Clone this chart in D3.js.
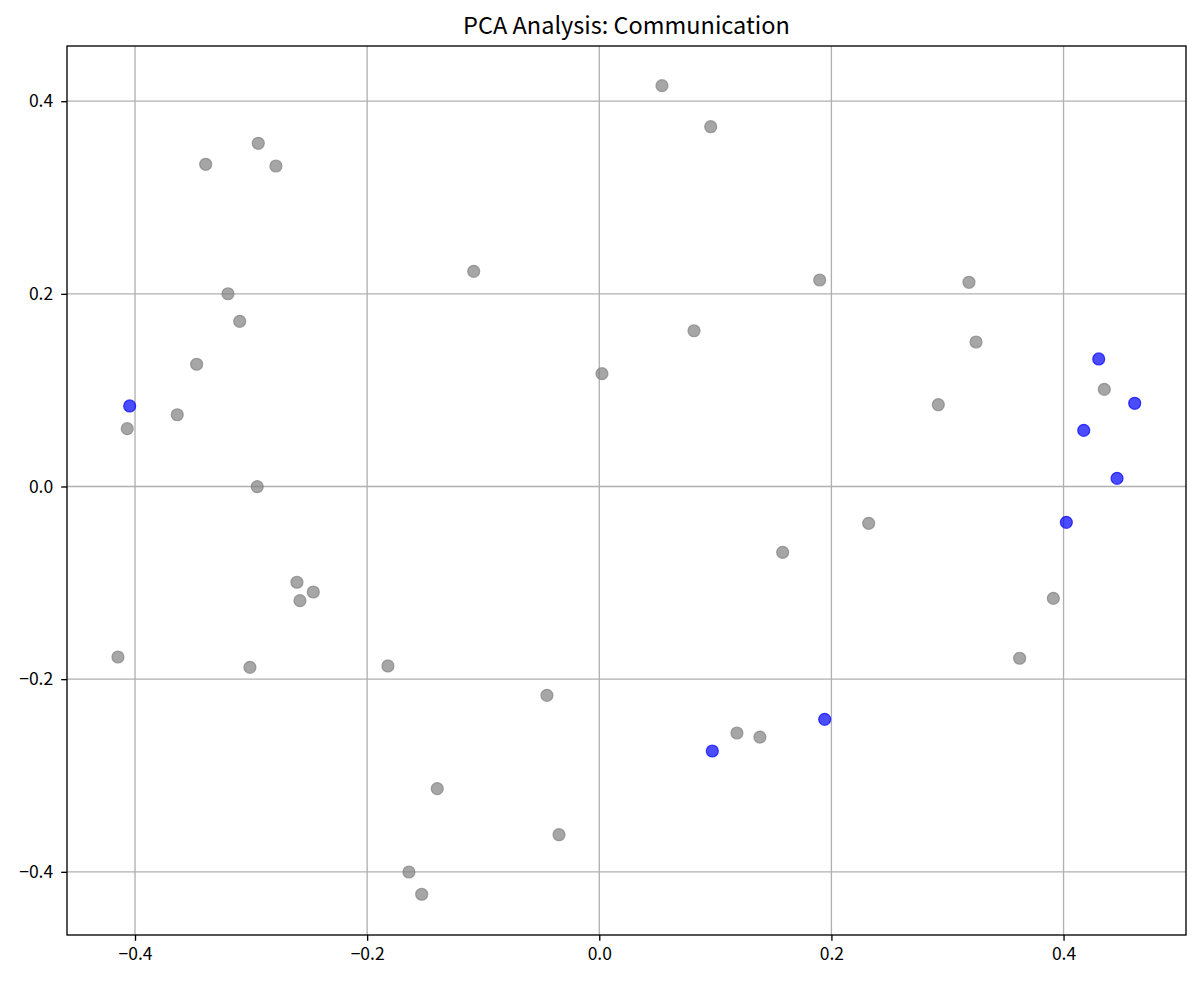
<!DOCTYPE html>
<html>
<head>
<meta charset="utf-8">
<script src="https://cdn.jsdelivr.net/npm/d3@7"></script>
<style>
  body { margin: 0; background: #fff; }
  svg text { font-family: "Noto Sans CJK JP", "Noto Sans", sans-serif; }
</style>
</head>
<body>
<div id="chart"></div>
<script>
// PCA scatter, gray = other items, blue = highlighted
const grayX = [0.0540, 0.0960, -0.2938, -0.3391, -0.2786, -0.1082, 0.1899, 0.3185, -0.3199, -0.3098,
  0.0816, 0.3246, -0.3469, 0.0023, 0.4351, -0.3636, 0.2921, -0.4067, -0.2947, 0.2321,
  0.1580, -0.2605, -0.2464, -0.2579, 0.3912, -0.4147, 0.3622, -0.3010, -0.1821, -0.0451,
  0.1186, 0.1384, -0.1396, -0.0347, -0.1640, -0.1530];
const grayY = [0.4161, 0.3735, 0.3563, 0.3345, 0.3327, 0.2234, 0.2144, 0.2120, 0.2001, 0.1715,
  0.1617, 0.1500, 0.1269, 0.1171, 0.1009, 0.0745, 0.0849, 0.0600, -0.0002, -0.0382,
  -0.0683, -0.0994, -0.1095, -0.1185, -0.1161, -0.1770, -0.1783, -0.1877, -0.1863, -0.2168,
  -0.2559, -0.2601, -0.3137, -0.3615, -0.4002, -0.4233];

const blueX = [-0.4046, 0.4303, 0.4613, 0.4174, 0.4461, 0.4024, 0.1942, 0.0974];
const blueY = [0.0836, 0.1324, 0.0864, 0.0583, 0.0085, -0.0372, -0.2417, -0.2746];

const xTicks = [-0.4, -0.2, 0.0, 0.2, 0.4];
const yTicks = [-0.4, -0.2, 0.0, 0.2, 0.4];
const xDomain = [-0.4586, 0.5055];
const yDomain = [-0.4656, 0.4573];

const width = 1200;
const height = 983;
const margin = { top: 46, right: 14, bottom: 48, left: 67 };
const plotWidth = width - margin.left - margin.right;
const plotHeight = height - margin.top - margin.bottom;

const svg = d3.select("#chart")
  .append("svg")
  .attr("width", width)
  .attr("height", height);

const g = svg.append("g")
  .attr("transform", `translate(${margin.left}, ${margin.top})`);

const xScale = d3.scaleLinear().domain(xDomain).range([0, plotWidth]);
const yScale = d3.scaleLinear().domain(yDomain).range([plotHeight, 0]);

// grid
g.append("g")
  .selectAll("line")
  .data(xTicks)
  .join("line")
  .attr("x1", d => xScale(d))
  .attr("x2", d => xScale(d))
  .attr("y1", 0)
  .attr("y2", plotHeight)
  .attr("stroke", "#b0b0b0")
  .attr("stroke-width", 1.33);

g.append("g")
  .selectAll("line")
  .data(yTicks)
  .join("line")
  .attr("x1", 0)
  .attr("x2", plotWidth)
  .attr("y1", d => yScale(d))
  .attr("y2", d => yScale(d))
  .attr("stroke", "#b0b0b0")
  .attr("stroke-width", 1.33);

// points
const grayPts = grayX.map((x, i) => ({ x, y: grayY[i] }));
const bluePts = blueX.map((x, i) => ({ x, y: blueY[i] }));

function drawPoints(data, color) {
  g.append("g")
    .selectAll("circle")
    .data(data)
    .join("circle")
    .attr("cx", d => xScale(d.x))
    .attr("cy", d => yScale(d.y))
    .attr("r", 6)
    .attr("fill", color)
    .attr("fill-opacity", 0.7)
    .attr("stroke", color)
    .attr("stroke-opacity", 0.7)
    .attr("stroke-width", 1.2);
}
drawPoints(grayPts, "gray");
drawPoints(bluePts, "blue");

// axes
const fmt = d3.format(".1f");
const xAxis = d3.axisBottom(xScale).tickValues(xTicks).tickFormat(fmt)
  .tickSizeInner(5.8).tickSizeOuter(0).tickPadding(7);
const yAxis = d3.axisLeft(yScale).tickValues(yTicks).tickFormat(fmt)
  .tickSizeInner(5.8).tickSizeOuter(0).tickPadding(8);

const xg = g.append("g")
  .attr("transform", `translate(0, ${plotHeight})`)
  .call(xAxis);
const yg = g.append("g").call(yAxis);

[xg, yg].forEach(ax => {
  ax.select(".domain").remove();
  ax.selectAll(".tick line").attr("stroke", "#000").attr("stroke-width", 1.33);
  ax.selectAll(".tick text")
    .attr("fill", "#000")
    .style("font-size", "17.5px");
});

// frame
g.append("rect")
  .attr("width", plotWidth)
  .attr("height", plotHeight)
  .attr("fill", "none")
  .attr("stroke", "#000")
  .attr("stroke-width", 1.33);

// title
svg.append("text")
  .attr("x", margin.left + plotWidth / 2)
  .attr("y", 34)
  .attr("text-anchor", "middle")
  .attr("fill", "#000")
  .style("font-size", "23.5px")
  .text("PCA Analysis: Communication");
</script>
</body>
</html>
